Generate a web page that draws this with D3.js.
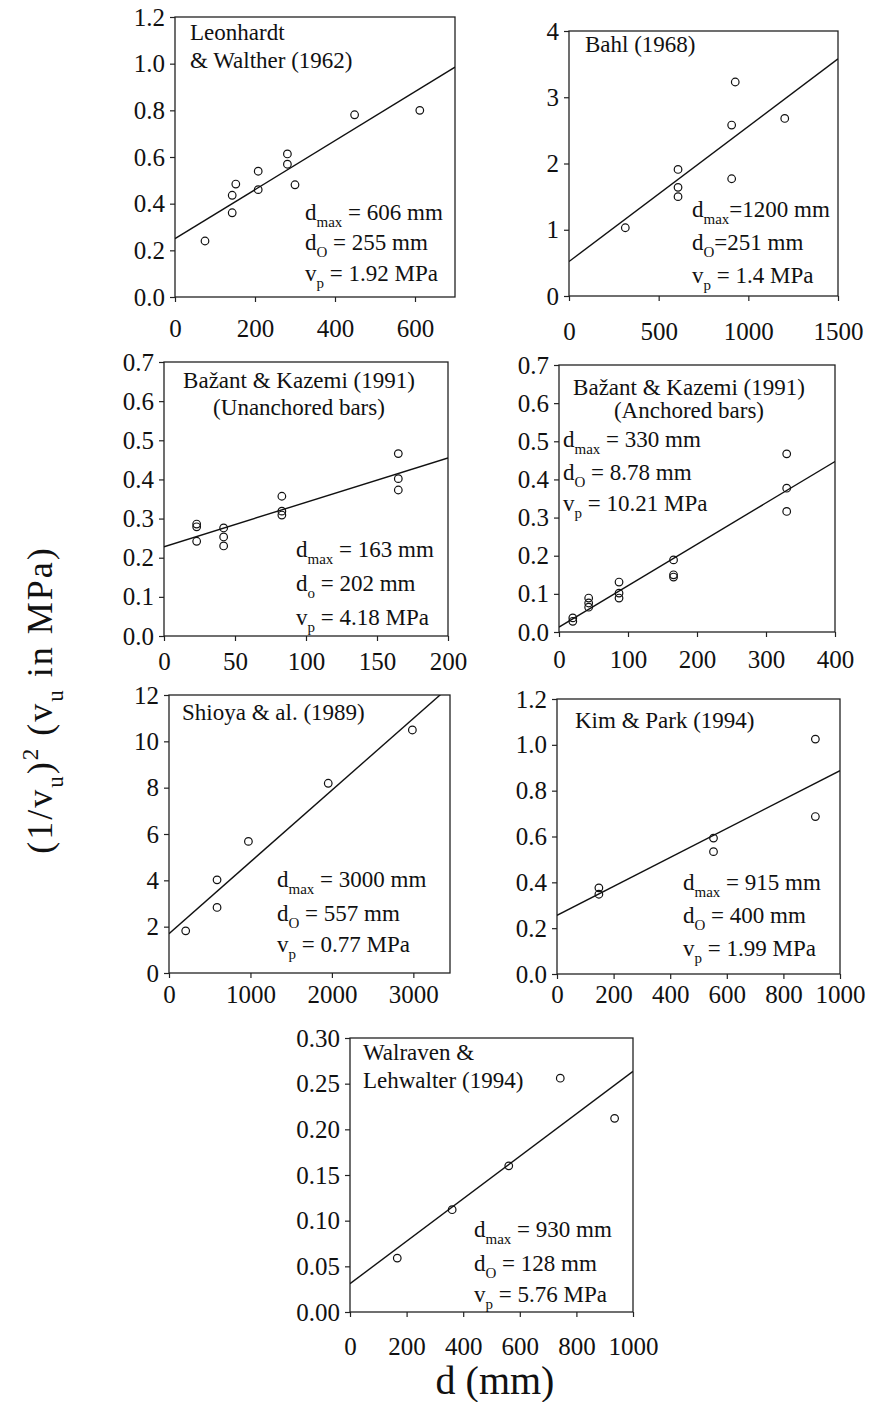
<!DOCTYPE html>
<html><head><meta charset="utf-8">
<script src="https://cdn.jsdelivr.net/npm/d3@7"></script>
<style>
html,body{margin:0;padding:0;background:#fff;}
svg{display:block;}
svg text{font-family:"Liberation Serif","Times New Roman",serif !important;fill:#111;}
</style></head>
<body>
<script>
// ---------------- DATA ----------------
const leonhardtX = [75,143,143,152,208,208,281,281,300,449,612];
const leonhardtY = [0.24,0.436,0.361,0.484,0.539,0.46,0.613,0.569,0.481,0.781,0.80];
const leonhardtFit = [[0,0.25],[700,0.985]];
const leonhardtXTicks = [0,200,400,600];
const leonhardtYTicks = [0,0.2,0.4,0.6,0.8,1.0,1.2];

const bahlX = [314,608,608,608,907,907,927,1203];
const bahlY = [1.03,1.91,1.64,1.50,2.58,1.77,3.23,2.68];
const bahlFit = [[0,0.52],[1500,3.58]];
const bahlXTicks = [0,500,1000,1500];
const bahlYTicks = [0,1,2,3,4];

const unanchoredX = [23,23,23,42,42,42,83,83,83,165,165,165];
const unanchoredY = [0.286,0.279,0.242,0.276,0.253,0.230,0.357,0.319,0.309,0.466,0.402,0.373];
const unanchoredFit = [[0,0.228],[200,0.455]];
const unanchoredXTicks = [0,50,100,150,200];
const unanchoredYTicks = [0,0.1,0.2,0.3,0.4,0.5,0.6,0.7];

const anchoredX = [20,20,43,43,43,87,87,87,166,166,166,330,330,330];
const anchoredY = [0.037,0.028,0.089,0.076,0.065,0.131,0.102,0.089,0.189,0.150,0.144,0.467,0.377,0.316];
const anchoredFit = [[0,0.013],[400,0.447]];
const anchoredXTicks = [0,100,200,300,400];
const anchoredYTicks = [0,0.1,0.2,0.3,0.4,0.5,0.6,0.7];

const shioyaX = [205,590,590,975,1955,2988];
const shioyaY = [1.82,2.83,4.02,5.68,8.19,10.49];
const shioyaFit = [[0,1.70],[3450,12.38]];
const shioyaXTicks = [0,1000,2000,3000];
const shioyaYTicks = [0,2,4,6,8,10,12];

const kimX = [148,148,553,553,913,913];
const kimY = [0.376,0.348,0.593,0.534,1.025,0.687];
const kimFit = [[0,0.256],[1000,0.887]];
const kimXTicks = [0,200,400,600,800,1000];
const kimYTicks = [0,0.2,0.4,0.6,0.8,1.0,1.2];

const walravenX = [167,361,561,743,935];
const walravenY = [0.059,0.112,0.160,0.256,0.212];
const walravenFit = [[0,0.031],[1000,0.2635]];
const walravenXTicks = [0,200,400,600,800,1000];
const walravenYTicks = [0,0.05,0.10,0.15,0.20,0.25,0.30];

// ---------------- LAYOUT ----------------
const panels = [
  {x:leonhardtX,y:leonhardtY,fit:leonhardtFit,xt:leonhardtXTicks,yt:leonhardtYTicks,
   xd:[0,700],yd:[0,1.2],yf:".1f",box:[175,455,17,297],xlb:40,
   title:["Leonhardt","& Walther (1962)"],tx:190,ty:[40,68],tanchor:"start",
   ann:[[["d"],["max","sub"],[" = 606 mm"]],[["d"],["O","sub"],[" = 255 mm"]],[["v"],["p","sub"],[" = 1.92 MPa"]]],
   ax:305,ay:[220,250,281]},
  {x:bahlX,y:bahlY,fit:bahlFit,xt:bahlXTicks,yt:bahlYTicks,
   xd:[0,1500],yd:[0,4],yf:"d",box:[569,838,31,296],xlb:44,
   title:["Bahl (1968)"],tx:585,ty:[52],tanchor:"start",
   ann:[[["d"],["max","sub"],["=1200 mm"]],[["d"],["O","sub"],["=251 mm"]],[["v"],["p","sub"],[" = 1.4 MPa"]]],
   ax:692,ay:[217,250,283]},
  {x:unanchoredX,y:unanchoredY,fit:unanchoredFit,xt:unanchoredXTicks,yt:unanchoredYTicks,
   xd:[0,200],yd:[0,0.7],yf:".1f",box:[164,448,362,636],xlb:34,
   title:["Bažant & Kazemi (1991)","(Unanchored bars)"],tx:299,ty:[388,415],tanchor:"middle",
   ann:[[["d"],["max","sub"],[" = 163 mm"]],[["d"],["o","sub"],[" = 202 mm"]],[["v"],["p","sub"],[" = 4.18 MPa"]]],
   ax:296,ay:[557,591,625]},
  {x:anchoredX,y:anchoredY,fit:anchoredFit,xt:anchoredXTicks,yt:anchoredYTicks,
   xd:[0,400],yd:[0,0.7],yf:".1f",box:[559,835,365,632],xlb:36,
   title:["Bažant & Kazemi (1991)","(Anchored bars)"],tx:689,ty:[395,418],tanchor:"middle",
   ann:[[["d"],["max","sub"],[" = 330 mm"]],[["d"],["O","sub"],[" = 8.78 mm"]],[["v"],["p","sub"],[" = 10.21 MPa"]]],
   ax:563,ay:[447,480,511]},
  {x:shioyaX,y:shioyaY,fit:shioyaFit,xt:shioyaXTicks,yt:shioyaYTicks,
   xd:[0,3450],yd:[0,12],yf:"d",box:[169,450,695,973],xlb:30,
   title:["Shioya & al. (1989)"],tx:182,ty:[720],tanchor:"start",
   ann:[[["d"],["max","sub"],[" = 3000 mm"]],[["d"],["O","sub"],[" = 557 mm"]],[["v"],["p","sub"],[" = 0.77 MPa"]]],
   ax:277,ay:[887,921,952]},
  {x:kimX,y:kimY,fit:kimFit,xt:kimXTicks,yt:kimYTicks,
   xd:[0,1000],yd:[0,1.2],yf:".1f",box:[557,840,699,974],xlb:29,
   title:["Kim & Park (1994)"],tx:575,ty:[728],tanchor:"start",
   ann:[[["d"],["max","sub"],[" = 915 mm"]],[["d"],["O","sub"],[" = 400 mm"]],[["v"],["p","sub"],[" = 1.99 MPa"]]],
   ax:683,ay:[890,923,956]},
  {x:walravenX,y:walravenY,fit:walravenFit,xt:walravenXTicks,yt:walravenYTicks,
   xd:[0,1000],yd:[0,0.30],yf:".2f",box:[350,633,1038,1312],xlb:43,
   title:["Walraven &","Lehwalter (1994)"],tx:363,ty:[1060,1088],tanchor:"start",
   ann:[[["d"],["max","sub"],[" = 930 mm"]],[["d"],["O","sub"],[" = 128 mm"]],[["v"],["p","sub"],[" = 5.76 MPa"]]],
   ax:474,ay:[1237,1271,1302]}
];

const W = 871, H = 1402;
const svg = d3.select("body").append("svg").attr("width",W).attr("height",H);

function rich(sel, parts, size){
  let shift = 0;
  parts.forEach(([t,mode])=>{
    const target = mode==="sub" ? Math.round(size*0.3) : mode==="sup" ? -Math.round(size*0.38) : 0;
    const ts = sel.append("tspan").text(t).attr("dy", target - shift);
    if (mode) ts.attr("font-size", Math.round(size*0.65));
    shift = target;
  });
}

panels.forEach((p,i)=>{
  const [L,R,T,B] = p.box;
  const xs = d3.scaleLinear().domain(p.xd).range([L,R]);
  const ys = d3.scaleLinear().domain(p.yd).range([B,T]);
  const g = svg.append("g");

  g.append("rect").attr("x",L).attr("y",T).attr("width",R-L).attr("height",B-T)
    .attr("fill","none").attr("stroke","#222").attr("stroke-width",1.3);

  const xa = g.append("g").attr("transform",`translate(0,${B})`)
    .call(d3.axisBottom(xs).tickValues(p.xt).tickSize(5).tickFormat(d3.format("d")));
  xa.attr("font-family",null).attr("font-size",null);
  xa.select(".domain").remove();
  xa.selectAll("line").attr("stroke","#222").attr("stroke-width",1.2);
  xa.selectAll("text").attr("y",0).attr("dy",0).attr("transform",`translate(0,${p.xlb})`)
    .style("font-size","25px");

  const ya = g.append("g").attr("transform",`translate(${L},0)`)
    .call(d3.axisLeft(ys).tickValues(p.yt).tickSize(5).tickPadding(5).tickFormat(d3.format(p.yf)));
  ya.attr("font-family",null).attr("font-size",null);
  ya.select(".domain").remove();
  ya.selectAll("line").attr("stroke","#222").attr("stroke-width",1.2);
  ya.selectAll("text").style("font-size","25px");

  const cid = "clip"+i;
  svg.append("clipPath").attr("id",cid).append("rect")
    .attr("x",L).attr("y",T).attr("width",R-L).attr("height",B-T);

  g.append("path").datum(p.fit)
    .attr("clip-path",`url(#${cid})`)
    .attr("d", d3.line().x(d=>xs(d[0])).y(d=>ys(d[1])))
    .attr("fill","none").attr("stroke","#111").attr("stroke-width",1.4);

  g.selectAll("circle.pt").data(p.x.map((v,k)=>[v,p.y[k]])).enter().append("circle")
    .attr("cx",d=>xs(d[0])).attr("cy",d=>ys(d[1])).attr("r",3.8)
    .attr("fill","none").attr("stroke","#111").attr("stroke-width",1.2);

  p.title.forEach((t,k)=>{
    g.append("text").attr("x",p.tx).attr("y",p.ty[k]).attr("text-anchor",p.tanchor)
      .attr("font-size",23).text(t);
  });

  p.ann.forEach((parts,k)=>{
    const t = g.append("text").attr("x",p.ax).attr("y",p.ay[k]).attr("font-size",23);
    rich(t, parts, 23);
  });
});

const yl = svg.append("text").attr("transform","translate(52,700) rotate(-90)")
  .attr("text-anchor","middle").attr("font-size",36).attr("letter-spacing",2);
rich(yl, [["(1/v"],["u","sub"],[")"],["2","sup"],[" (v"],["u","sub"],[" in MPa)"]], 36);

svg.append("text").attr("x",495).attr("y",1394).attr("text-anchor","middle")
  .attr("font-size",40).text("d (mm)");
</script>
</body></html>
